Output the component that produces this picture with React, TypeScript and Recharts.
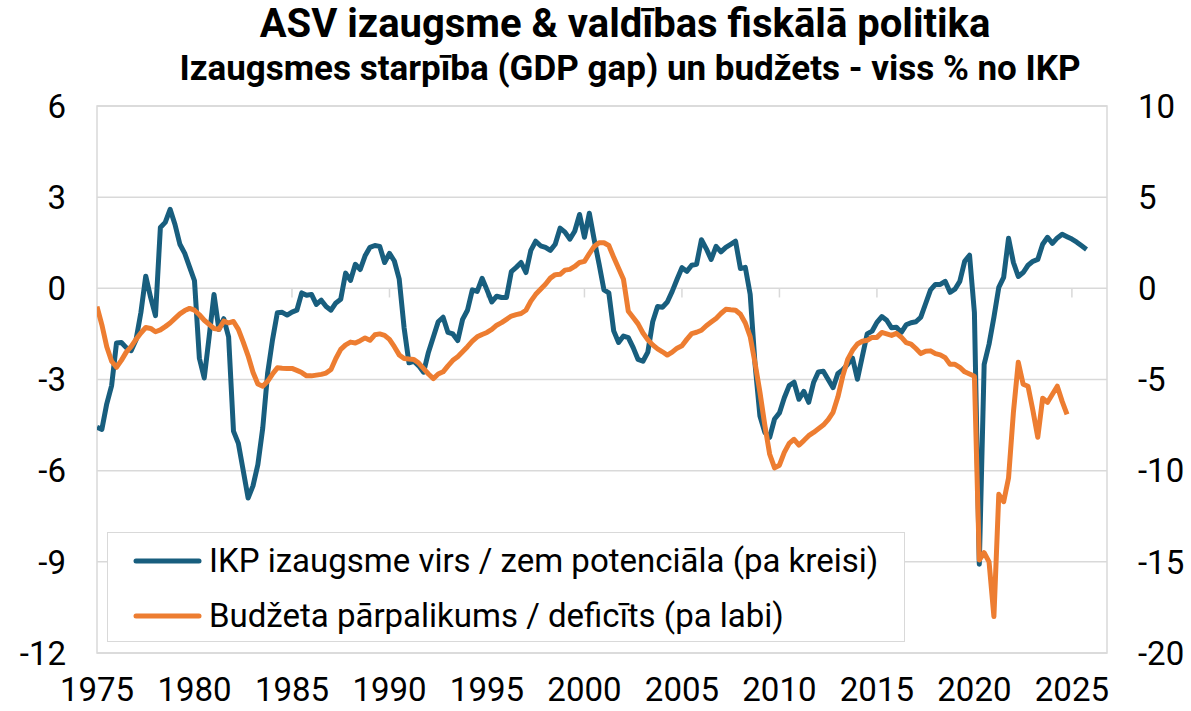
import React from 'react'
import {
  LineChart,
  Line,
  XAxis,
  YAxis,
  CartesianGrid,
  Legend,
  ReferenceLine,
  ReferenceArea,
} from 'recharts'

// IKP izaugsme virs / zem potenciāla, % no IKP (ceturkšņi, no 1975Q1)
const gdpGap = [
  -4.57, -4.64, -3.8, -3.2, -1.8, -1.78, -1.95, -2.05, -1.7, -0.8, 0.4, -0.3,
  -0.9, 2.0, 2.17, 2.6, 2.1, 1.45, 1.15, 0.7, 0.25, -2.3, -2.95, -1.6,
  -0.2, -1.35, -1.0, -1.6, -4.7, -5.1, -6.0, -6.9, -6.5, -5.8, -4.6, -2.8,
  -1.7, -0.8, -0.79, -0.88, -0.78, -0.72, -0.15, -0.23, -0.2, -0.53, -0.39, -0.6,
  -0.72, -0.48, -0.36, 0.5, 0.26, 0.79, 0.62, 1.07, 1.35, 1.41, 1.38, 0.85,
  1.15, 0.9, 0.3, -1.3, -2.45, -2.4, -2.55, -2.76, -2.1, -1.6, -1.1, -0.95,
  -1.45, -1.5, -1.72, -1.02, -0.72, -0.05, -0.1, 0.33, -0.05, -0.45, -0.26, -0.3,
  -0.3, 0.55, 0.69, 0.85, 0.52, 1.25, 1.55, 1.4, 1.35, 1.25, 1.45, 1.98,
  1.85, 1.62, 1.88, 2.43, 1.68, 2.47, 1.6, 0.8, -0.05, -0.15, -1.4, -1.78,
  -1.57, -1.62, -1.95, -2.34, -2.4, -2.1, -1.1, -0.6, -0.62, -0.45, -0.1, 0.3,
  0.68, 0.56, 0.76, 0.79, 1.6, 1.3, 0.95, 1.38, 1.2, 1.35, 1.45, 1.55,
  0.65, 0.69, -0.2, -2.5, -4.2, -4.74, -4.9, -4.3, -4.1, -3.6, -3.2, -3.09,
  -3.65, -3.39, -3.75, -3.1, -2.75, -2.73, -3.0, -3.27, -2.8, -2.68, -2.5, -2.3,
  -2.99, -2.24, -1.5, -1.41, -1.12, -0.93, -1.05, -1.3, -1.28, -1.45, -1.2, -1.13,
  -1.1, -0.95, -0.5, -0.05, 0.13, 0.13, 0.23, -0.13, -0.03, 0.23, 0.89, 1.09,
  -0.8, -9.08, -2.5, -1.84, -0.95, 0.03, 0.36, 1.65, 0.85, 0.39, 0.52, 0.76,
  0.89, 0.95, 1.45, 1.68, 1.48, 1.66, 1.78, 1.7, 1.62, 1.52, 1.4, 1.28,
]

// Budžeta pārpalikums / deficīts, % no IKP (ceturkšņi, no 1975Q1)
const budget = [
  -1.0, -2.0, -3.2, -4.0, -4.33, -3.95, -3.5, -3.2, -2.8, -2.45, -2.15, -2.2,
  -2.38, -2.28, -2.1, -1.9, -1.65, -1.4, -1.22, -1.1, -1.2, -1.45, -1.75, -1.98,
  -2.2, -2.25, -1.8, -1.9, -1.82, -2.25, -2.95, -3.7, -4.6, -5.25, -5.37, -5.1,
  -4.7, -4.36, -4.38, -4.39, -4.39, -4.5, -4.62, -4.8, -4.8, -4.76, -4.72, -4.65,
  -4.45, -3.85, -3.35, -3.1, -2.95, -3.0, -2.87, -2.72, -2.85, -2.55, -2.5, -2.58,
  -2.8, -3.2, -3.65, -3.85, -3.88, -3.9, -4.1, -4.4, -4.7, -4.95, -4.7, -4.58,
  -4.25, -3.95, -3.75, -3.48, -3.2, -2.9, -2.66, -2.53, -2.42, -2.25, -2.02, -1.88,
  -1.7, -1.52, -1.44, -1.38, -1.2, -0.7, -0.33, -0.05, 0.22, 0.56, 0.75, 0.77,
  1.0, 1.04, 1.2, 1.42, 1.48, 1.9, 2.3, 2.5, 2.5, 2.35, 1.7, 1.1,
  0.5, -1.26, -1.6, -1.95, -2.45, -2.82, -3.1, -3.32, -3.48, -3.66, -3.5, -3.28,
  -3.15, -2.8, -2.48, -2.41, -2.3, -2.05, -1.85, -1.65, -1.38, -1.15, -1.18, -1.2,
  -1.42, -1.9, -2.65, -4.1, -5.7, -7.5, -9.1, -9.85, -9.7, -9.0, -8.5, -8.28,
  -8.6, -8.35, -8.08, -7.9, -7.7, -7.5, -7.2, -6.8, -5.95, -4.8, -3.9, -3.4,
  -3.05, -2.9, -2.85, -2.69, -2.69, -2.42, -2.5, -2.58, -2.47, -2.68, -2.98, -3.06,
  -3.3, -3.58, -3.45, -3.43, -3.58, -3.65, -3.8, -4.17, -4.17, -4.33, -4.58, -4.7,
  -4.82, -14.9, -14.5, -15.0, -18.0, -11.3, -11.7, -10.4, -6.8, -4.06, -5.26, -5.37,
  -6.7, -8.17, -6.03, -6.25, -5.81, -5.37, -6.2, -6.91,
]

const yearTicks = [1975, 1980, 1985, 1990, 1995, 2000, 2005, 2010, 2015, 2020, 2025]
const leftTicks = [-12, -9, -6, -3, 0, 3, 6]
const rightTicks = [-20, -15, -10, -5, 0, 5, 10]

const COLORS = {
  gap: '#185e7e',
  budget: '#ed7d31',
  grid: '#d9d9d9',
}

const legendItems = [
  { name: 'IKP izaugsme virs / zem potenciāla (pa kreisi)', color: COLORS.gap },
  { name: 'Budžeta pārpalikums / deficīts (pa labi)', color: COLORS.budget },
]

const data = gdpGap.map((g, i) => ({
  t: 1975 + i / 4,
  gap: g,
  budget: i < budget.length ? budget[i] : null,
}))

const FONT = 'Roboto, "Noto Sans", sans-serif'
const tickStyle = { fontSize: 33, fill: '#000', fontFamily: FONT }

function LegendBox() {
  return (
    <div
      style={{
        width: 798,
        height: 110,
        boxSizing: 'border-box',
        border: `1.5px solid ${COLORS.grid}`,
        background: '#fff',
        fontFamily: FONT,
        fontSize: 33,
        color: '#000',
      }}
    >
      {legendItems.map((item) => (
        <div
          key={item.name}
          style={{ display: 'flex', alignItems: 'center', height: 55, marginLeft: 24 }}
        >
          <svg width={71} height={8} style={{ marginRight: 6 }}>
            <line
              x1={4}
              y1={4}
              x2={67}
              y2={4}
              stroke={item.color}
              strokeWidth={5}
              strokeLinecap="round"
            />
          </svg>
          <span>{item.name}</span>
        </div>
      ))}
    </div>
  )
}

export default function App() {
  return (
    <div style={{ position: 'absolute', left: 0, top: 0, width: 1191, height: 711, background: '#fff' }}>
      <div
        style={{
          position: 'absolute',
          left: 125,
          top: 1,
          width: 1000,
          textAlign: 'center',
          fontFamily: FONT,
          fontWeight: 700,
          fontSize: 40,
          lineHeight: '46px',
          color: '#000',
        }}
      >
        ASV izaugsme &amp; valdības fiskālā politika
      </div>
      <div
        style={{
          position: 'absolute',
          left: 130,
          top: 49,
          width: 1000,
          textAlign: 'center',
          fontFamily: FONT,
          fontWeight: 700,
          fontSize: 35,
          lineHeight: '40px',
          color: '#000',
        }}
      >
        Izaugsmes starpība (GDP gap) un budžets - viss % no IKP
      </div>
      <LineChart
        width={1191}
        height={711}
        data={data}
        margin={{ top: 106, right: 0, bottom: 0, left: 0 }}
      >
        <CartesianGrid
          yAxisId="left"
          vertical={false}
          stroke={COLORS.grid}
          strokeWidth={1.5}
        />
        <XAxis
          dataKey="t"
          type="number"
          domain={[1975, 2026.8]}
          ticks={yearTicks}
          allowDataOverflow
          height={58}
          axisLine={false}
          tickLine={false}
          tickSize={0}
          tickMargin={25}
          tick={tickStyle}
          interval={0}
        />
        <YAxis
          yAxisId="left"
          domain={[-12, 6]}
          ticks={leftTicks}
          width={97}
          axisLine={false}
          tickLine={false}
          tickSize={0}
          tickMargin={31}
          tick={tickStyle}
          interval={0}
        />
        <YAxis
          yAxisId="right"
          orientation="right"
          domain={[-20, 10]}
          ticks={rightTicks}
          width={84}
          axisLine={false}
          tickLine={false}
          tickSize={0}
          tickMargin={31}
          tick={{ ...tickStyle, textAnchor: 'start' }}
          interval={0}
        />
        <ReferenceArea
          yAxisId="left"
          x1={1975}
          x2={2026.8}
          y1={-12}
          y2={6}
          fill="none"
          stroke={COLORS.grid}
          strokeWidth={1.5}
          ifOverflow="visible"
        />
        {yearTicks.slice(1).map((yr) => (
          <ReferenceLine
            key={yr}
            yAxisId="left"
            segment={[
              { x: yr, y: 0 },
              { x: yr, y: -0.3 },
            ]}
            stroke={COLORS.grid}
            strokeWidth={1.5}
          />
        ))}
        <Legend
          layout="horizontal"
          verticalAlign="middle"
          align="center"
          wrapperStyle={{ left: 107, top: 532, width: 798, height: 110 }}
          content={() => <LegendBox />}
        />
        <Line
          yAxisId="left"
          type="linear"
          dataKey="gap"
          stroke={COLORS.gap}
          strokeWidth={5}
          strokeLinejoin="round"
          dot={false}
          isAnimationActive={false}
        />
        <Line
          yAxisId="right"
          type="linear"
          dataKey="budget"
          stroke={COLORS.budget}
          strokeWidth={5}
          strokeLinejoin="round"
          dot={false}
          connectNulls={false}
          isAnimationActive={false}
        />
      </LineChart>
    </div>
  )
}
